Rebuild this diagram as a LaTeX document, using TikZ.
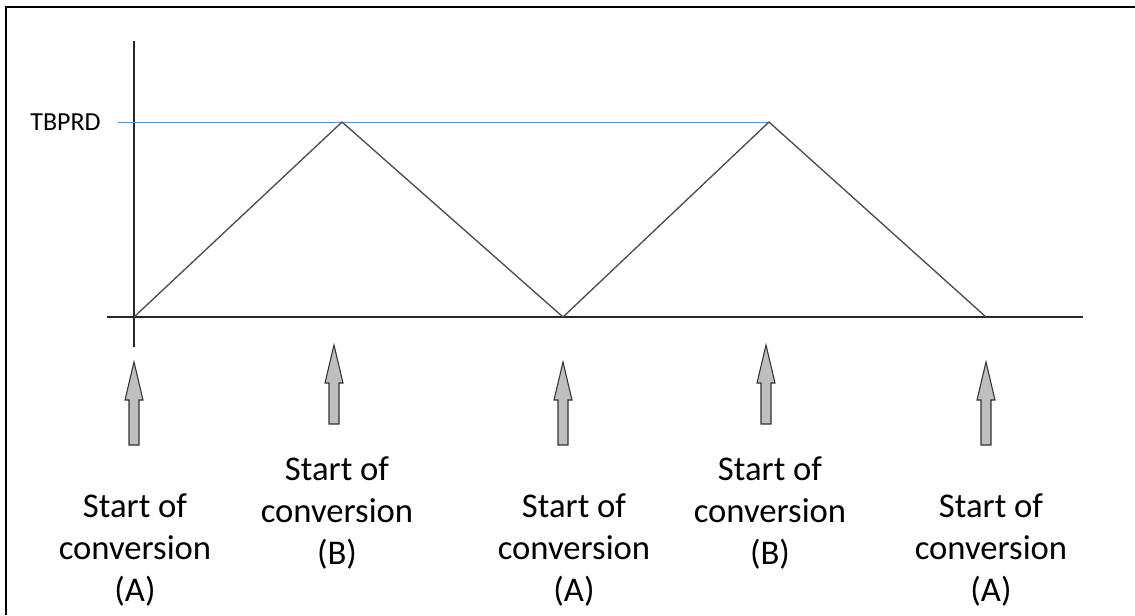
\documentclass[tikz,border=0pt]{standalone}
\usepackage{fontspec}
\setmainfont{Carlito}
\definecolor{levelblue}{RGB}{100,145,205}
\begin{document}
\begin{tikzpicture}[x=0.75pt, y=-0.75pt, font=\fontsize{26}{31.5}\selectfont]
  \tikzset{
    axis/.style={black!85, line width=1.2pt},
    ramp/.style={black!70, line width=1pt, line join=miter},
    level/.style={levelblue, line width=0.7pt},
    socarrow/.style={draw=black!80, fill=black!25, line width=0.8pt, line join=miter},
    soclabel/.style={align=center, inner sep=0pt}
  }
  \useasboundingbox (0,0) rectangle (1135,615);
  % frame (only the top and left edges are in view)
  \draw[line width=1.6pt] (6,615) -- (6,7) -- (1135,7);
  % axes
  \coordinate (ytop) at (134,41);
  \coordinate (ybot) at (134,347);
  \coordinate (xl) at (107,317);
  \coordinate (xr) at (1083,317);
  \draw[axis] (ytop) -- (ybot);
  \draw[axis] (xl) -- (xr);
  % up-down counter
  \coordinate (z0) at (134,317);
  \coordinate (pk1) at (342,122);
  \coordinate (z1) at (563,317);
  \coordinate (pk2) at (769,122);
  \coordinate (z2) at (986,317);
  \node[anchor=east, font=\fontsize{19.5}{24}\selectfont, inner sep=0pt] (tbprd) at (101,122) {TBPRD};
  \draw[level] (tbprd.east) ++(17,0) -- (pk2);
  \draw[ramp] (z0) -- (pk1) -- (z1) -- (pk2) -- (z2);
  % trigger arrows and labels
  \foreach \i/\x/\tip/\bot/\lx/\ly/\t in {
      1/134/362/445/135/550/A,
      2/334/345/424/337/513/B,
      3/563/362/445/574/550/A,
      4/766/345/424/770/513/B,
      5/986/362/445/991/550/A} {
    \draw[socarrow] (\x-5,\bot) -- (\x-5,\tip+38) -- (\x-9,\tip+38) -- (\x,\tip)
      -- (\x+9,\tip+38) -- (\x+5,\tip+38) -- (\x+5,\bot) -- cycle;
    \node[soclabel] (soc\i) at (\lx,\ly) {Start of\\conversion\\(\t)};
  }
\end{tikzpicture}
\end{document}
